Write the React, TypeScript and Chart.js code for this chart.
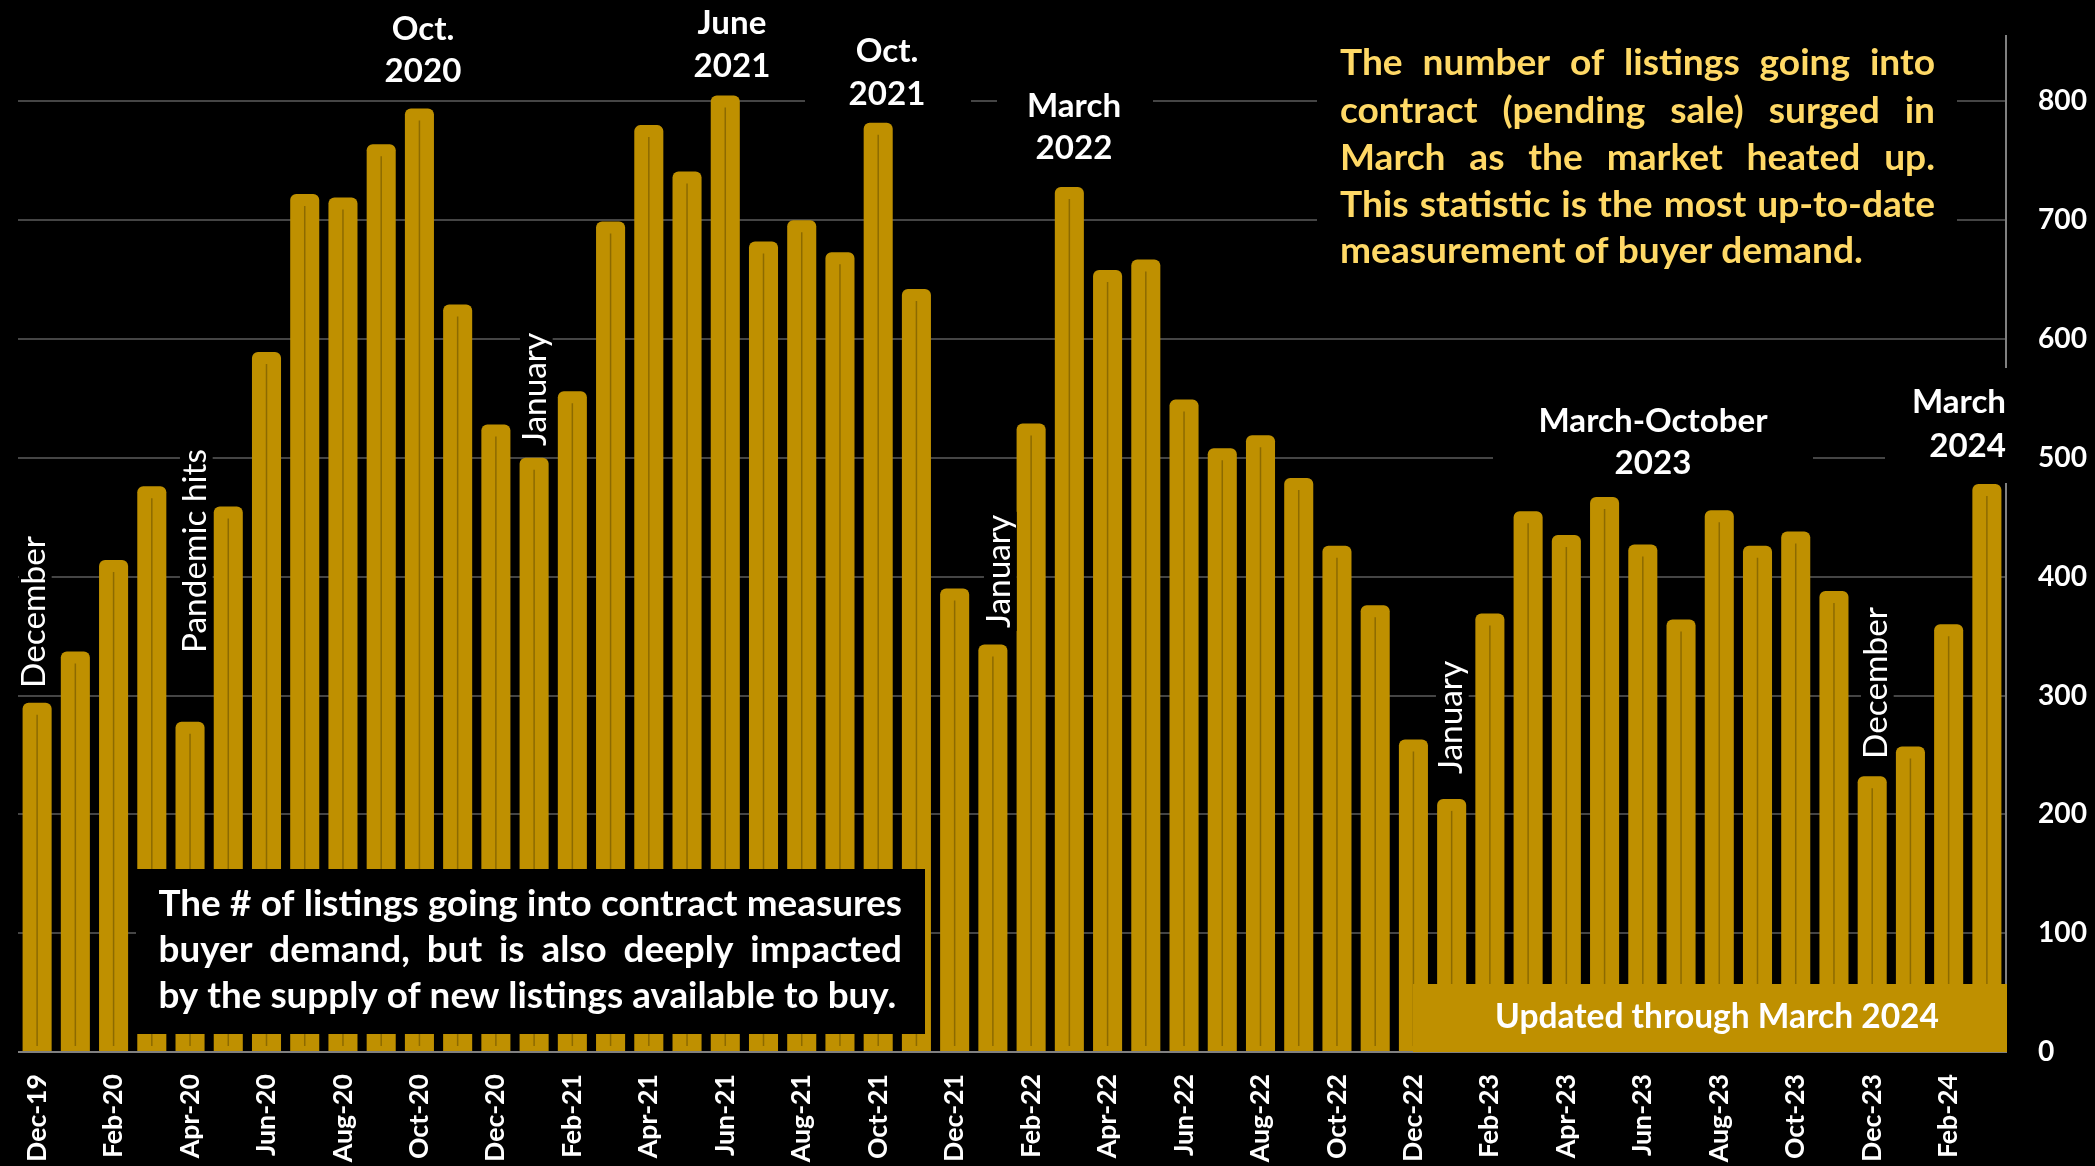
import React, { useEffect, useRef } from 'react';
import { Chart, registerables } from 'chart.js';

Chart.register(...registerables);

// ---------------- data ----------------
const LABELS = [
  'Dec-19',
  'Jan-20', 'Feb-20', 'Mar-20', 'Apr-20', 'May-20', 'Jun-20', 'Jul-20', 'Aug-20', 'Sep-20', 'Oct-20', 'Nov-20', 'Dec-20',
  'Jan-21', 'Feb-21', 'Mar-21', 'Apr-21', 'May-21', 'Jun-21', 'Jul-21', 'Aug-21', 'Sep-21', 'Oct-21', 'Nov-21', 'Dec-21',
  'Jan-22', 'Feb-22', 'Mar-22', 'Apr-22', 'May-22', 'Jun-22', 'Jul-22', 'Aug-22', 'Sep-22', 'Oct-22', 'Nov-22', 'Dec-22',
  'Jan-23', 'Feb-23', 'Mar-23', 'Apr-23', 'May-23', 'Jun-23', 'Jul-23', 'Aug-23', 'Sep-23', 'Oct-23', 'Nov-23', 'Dec-23',
  'Jan-24', 'Feb-24', 'Mar-24',
];

const VALUES_2019 = [294];
const VALUES_2020 = [337, 414, 476, 278, 459, 589, 722, 719, 764, 794, 629, 528];
const VALUES_2021 = [500, 556, 699, 780, 741, 805, 682, 700, 673, 782, 642, 390];
const VALUES_2022 = [343, 529, 728, 658, 667, 549, 508, 519, 483, 426, 376, 263];
const VALUES_2023 = [213, 369, 455, 435, 467, 427, 364, 456, 426, 438, 388, 232];
const VALUES_2024 = [257, 360, 478];
const VALUES = [...VALUES_2019, ...VALUES_2020, ...VALUES_2021, ...VALUES_2022, ...VALUES_2023, ...VALUES_2024];

const Y_MIN = 0;
const Y_MAX = 855;
const Y_STEP = 100;

const TOP_NOTE = [
  'The number of listings going into',
  'contract (pending sale) surged in',
  'March as the market heated up.',
  'This statistic is the most up-to-date',
  'measurement of buyer demand.',
];
const BOTTOM_NOTE = [
  'The # of listings going into contract measures',
  'buyer demand, but is also deeply impacted',
  'by the supply of new listings available to buy.',
];
const UPDATED_NOTE = 'Updated through March 2024';

// horizontal callouts: text lines, anchor, baselines, background box
const CALLOUTS = [
  { lines: ['Oct.', '2020'], x: 423, align: 'center', base: [40, 82], box: null },
  { lines: ['June', '2021'], x: 732, align: 'center', base: [34, 77], box: null },
  { lines: ['Oct.', '2021'], x: 887, align: 'center', base: [62, 105], box: [805, 30, 971, 120] },
  { lines: ['March', '2022'], x: 1074, align: 'center', base: [117, 159], box: [997, 80, 1153, 175] },
  { lines: ['March-October', '2023'], x: 1653, align: 'center', base: [432, 474], box: [1493, 395, 1813, 490] },
  { lines: ['March', '2024'], x: 2006, align: 'right', base: [413, 457], box: [1885, 368, 2030, 483] },
];

// vertical callouts (read bottom to top): text, baseline x, start y (bottom)
const VCALLOUTS = [
  { text: 'December', x: 45, y: 688 },
  { text: 'Pandemic hits', x: 206, y: 653 },
  { text: 'January', x: 546, y: 446 },
  { text: 'January', x: 1010, y: 628 },
  { text: 'January', x: 1462, y: 774 },
  { text: 'December', x: 1887, y: 759 },
];

const FAMILY = 'Lato, "Open Sans", sans-serif';
const GOLD = '#BF9000';
const YELLOW = '#FFD966';

function fitSize(text: string, width: number, weight: string) {
  const c = document.createElement('canvas').getContext('2d')!;
  c.font = `${weight} 100px ${FAMILY}`;
  return (100 * width) / c.measureText(text).width;
}

function drawLine(ctx: CanvasRenderingContext2D, line: string, left: number, right: number, y: number, justify: boolean) {
  ctx.textAlign = 'left';
  if (!justify) {
    ctx.fillText(line, left, y);
    return;
  }
  const words = line.split(' ');
  const widths = words.map((w) => ctx.measureText(w).width);
  const total = widths.reduce((a, b) => a + b, 0);
  const gap = (right - left - total) / (words.length - 1);
  let x = left;
  words.forEach((w, i) => {
    ctx.fillText(w, x, y);
    x += widths[i] + gap;
  });
}

export default function App() {
  const ref = useRef<HTMLCanvasElement>(null);

  useEffect(() => {
    const canvas = ref.current!;
    const xTick = fitSize('Dec-19', 88, 'bold');
    const yTick = fitSize('800', 49, 'bold');
    const labelSize = fitSize('March-October', 229, 'bold');
    const vSize = fitSize('December', 152, 'normal');
    const paraSize = fitSize('measurement of buyer demand.', 523, 'bold');
    const boxSize = fitSize('by the supply of new listings available to buy.', 738, 'bold');
    const updSize = fitSize(UPDATED_NOTE, 444, 'bold');

    const background = {
      id: 'bg',
      beforeDraw(chart: any) {
        const c = chart.ctx;
        c.save();
        c.fillStyle = '#000';
        c.fillRect(0, 0, chart.width, chart.height);
        c.restore();
      },
    };

    const barLines = {
      id: 'barLines',
      afterDatasetsDraw(chart: any) {
        const c = chart.ctx;
        const meta = chart.getDatasetMeta(0);
        c.save();
        c.strokeStyle = '#8C6A00';
        c.lineWidth = 1.5;
        meta.data.forEach((bar: any) => {
          c.beginPath();
          c.moveTo(bar.x, bar.y + 12);
          c.lineTo(bar.x, bar.base - 5);
          c.stroke();
        });
        c.restore();
      },
    };

    const notes = {
      id: 'notes',
      afterDraw(chart: any) {
        const c: CanvasRenderingContext2D = chart.ctx;
        c.save();
        // top-right paragraph
        c.fillStyle = '#000';
        c.fillRect(1317, 20, 640, 285);
        c.fillStyle = YELLOW;
        c.font = `bold ${paraSize}px ${FAMILY}`;
        c.textBaseline = 'alphabetic';
        const pBase = [75, 123, 170, 217, 263];
        TOP_NOTE.forEach((l, i) => drawLine(c, l, 1340, 1935, pBase[i], i < TOP_NOTE.length - 1));

        // bottom-left box
        c.fillStyle = '#000';
        c.fillRect(136, 869, 789, 165);
        c.fillStyle = '#FFFFFF';
        c.font = `bold ${boxSize}px ${FAMILY}`;
        const bBase = [916, 962, 1008];
        BOTTOM_NOTE.forEach((l, i) => drawLine(c, l, 158.5, 902, bBase[i], i < BOTTOM_NOTE.length - 1));

        // updated box
        c.fillStyle = GOLD;
        c.fillRect(1413, 984, 594, 68);
        c.fillStyle = '#FFFFFF';
        c.font = `bold ${updSize}px ${FAMILY}`;
        c.textAlign = 'center';
        c.fillText(UPDATED_NOTE, 1717, 1028);

        // horizontal callouts
        c.font = `bold ${labelSize}px ${FAMILY}`;
        CALLOUTS.forEach((n) => {
          if (n.box) {
            c.fillStyle = '#000';
            c.fillRect(n.box[0], n.box[1], n.box[2] - n.box[0], n.box[3] - n.box[1]);
          }
          c.fillStyle = '#FFFFFF';
          c.textAlign = n.align as CanvasTextAlign;
          n.lines.forEach((l, i) => c.fillText(l, n.x, n.base[i]));
        });

        // vertical callouts
        c.font = `normal ${vSize}px ${FAMILY}`;
        VCALLOUTS.forEach((n) => {
          const w = c.measureText(n.text).width;
          c.save();
          c.translate(n.x, n.y);
          c.rotate(-Math.PI / 2);
          c.fillStyle = '#000';
          c.fillRect(-3, -vSize * 0.78, w + 6, vSize * 0.98);
          c.fillStyle = '#FFFFFF';
          c.textAlign = 'left';
          c.textBaseline = 'alphabetic';
          c.fillText(n.text, 0, 0);
          c.restore();
        });
        c.restore();
      },
    };

    const chart = new Chart(canvas, {
      type: 'bar',
      data: {
        labels: LABELS,
        datasets: [
          {
            data: VALUES,
            backgroundColor: GOLD,
            borderWidth: 0,
            borderRadius: { topLeft: 6, topRight: 6, bottomLeft: 0, bottomRight: 0 },
            borderSkipped: false,
            barPercentage: 0.76,
            categoryPercentage: 1,
          },
        ],
      },
      options: {
        responsive: false,
        animation: false,
        layout: { padding: { left: 18, top: 36, right: 0, bottom: 0 } },
        plugins: { legend: { display: false }, tooltip: { enabled: false } },
        scales: {
          x: {
            grid: { display: false, drawTicks: false },
            border: { display: false },
            ticks: {
              color: '#FFFFFF',
              font: { family: FAMILY, weight: 'bold', size: xTick },
              minRotation: 90,
              maxRotation: 90,
              autoSkip: false,
              padding: 22,
              callback: (_v: any, i: number) => (i % 2 === 0 ? LABELS[i] : ''),
            },
            afterFit: (s: any) => {
              s.height = 114;
              s.paddingLeft = 0;
              s.paddingRight = 0;
            },
          },
          y: {
            position: 'right',
            min: Y_MIN,
            max: Y_MAX,
            grid: {
              color: (ctx: any) => (ctx.tick && ctx.tick.value === 0 ? '#808080' : '#454545'),
              lineWidth: 2,
              drawTicks: false,
            },
            border: { display: true, color: '#808080', width: 2 },
            ticks: {
              stepSize: Y_STEP,
              includeBounds: false,
              color: '#FFFFFF',
              font: { family: FAMILY, weight: 'bold', size: yTick },
              padding: 32,
            },
            afterFit: (s: any) => {
              s.width = 89;
              s.paddingTop = 0;
              s.paddingBottom = 0;
            },
          },
        },
      },
      plugins: [background, barLines, notes],
    });
    return () => chart.destroy();
  }, []);

  return (
    <div style={{ position: 'absolute', left: 0, top: 0, width: 2095, height: 1166, background: '#000' }}>
      <canvas ref={ref} width={2095} height={1166} style={{ display: 'block' }} />
    </div>
  );
}
